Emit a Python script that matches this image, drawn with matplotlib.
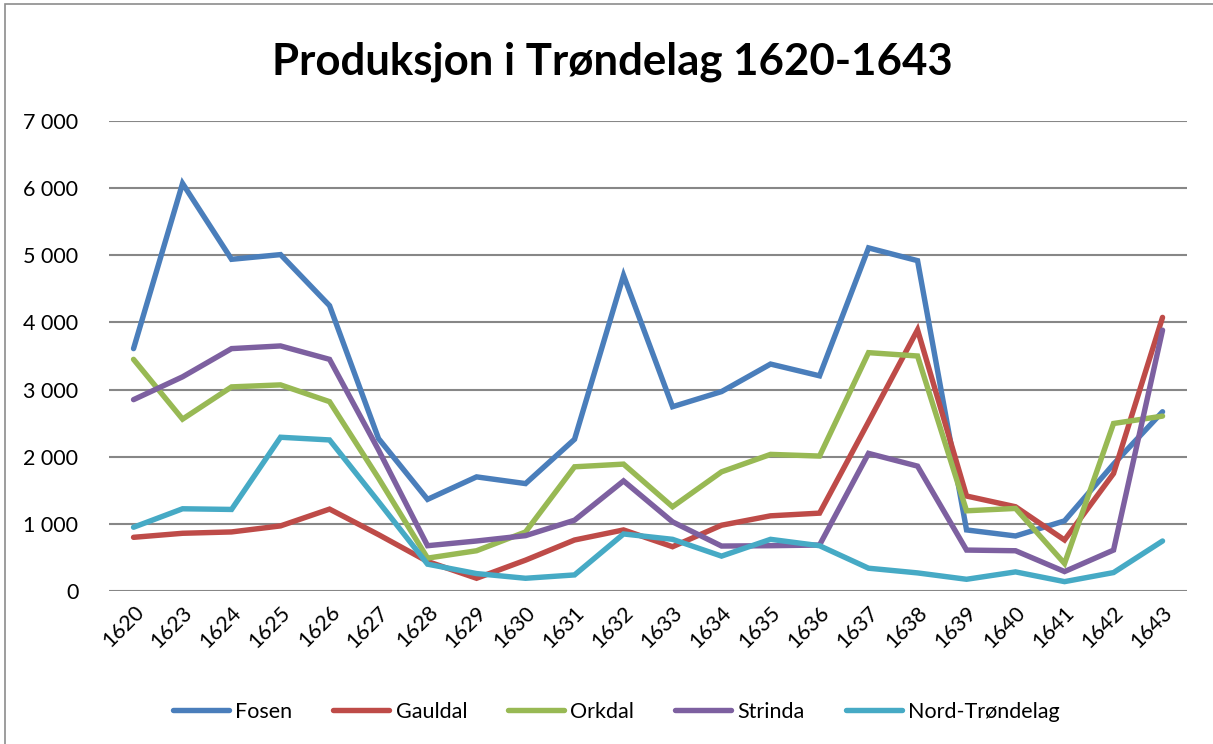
import matplotlib.pyplot as plt
from matplotlib.ticker import FuncFormatter, MultipleLocator
from matplotlib.patches import Rectangle

years = ["1620", "1623", "1624", "1625", "1626", "1627", "1628", "1629", "1630", "1631", "1632",
         "1633", "1634", "1635", "1636", "1637", "1638", "1639", "1640", "1641", "1642", "1643"]

fosen = [3610, 6070, 4940, 5010, 4250, 2270, 1365, 1700, 1600, 2260, 4700,
         2745, 2970, 3380, 3205, 5110, 4920, 910, 820, 1045, 1890, 2670]
gauldal = [800, 860, 880, 970, 1220, 840, 440, 190, 460, 760, 910,
           660, 980, 1120, 1160, 2520, 3890, 1415, 1255, 760, 1750, 4075]
orkdal = [3450, 2560, 3040, 3070, 2820, 1680, 490, 600, 880, 1850, 1890,
          1255, 1775, 2035, 2010, 3550, 3500, 1195, 1230, 410, 2495, 2605]
strinda = [2850, 3190, 3610, 3650, 3450, 2100, 675, 745, 825, 1055, 1640,
           1030, 670, 675, 685, 2050, 1860, 610, 600, 290, 610, 3885]
nord = [950, 1225, 1215, 2290, 2250, 1330, 400, 260, 190, 240, 850,
        770, 520, 770, 675, 340, 270, 175, 285, 140, 275, 745]

series = [
    ("Fosen", fosen, "#4a7ebb"),
    ("Gauldal", gauldal, "#be4b48"),
    ("Orkdal", orkdal, "#98b954"),
    ("Strinda", strinda, "#7d60a0"),
    ("Nord-Trøndelag", nord, "#46aac5"),
]

plt.rcParams['font.family'] = ['Lato', 'DejaVu Sans']

fig = plt.figure(figsize=(12.13, 7.44), dpi=100)
ax = fig.add_axes([0.0899, 0.2056, 0.8887, 0.6318])

# ramme rundt diagrammet
fig.patches.append(Rectangle((0.004, -0.01), 1.0, 1.005, transform=fig.transFigure,
                             fill=False, edgecolor="#8c8c8c", linewidth=1.2))

x = list(range(len(years)))
for name, vals, col in series:
    ax.plot(x, vals, color=col, linewidth=3.9, label=name, solid_capstyle="round",
            solid_joinstyle="miter")

ax.set_xlim(-0.5, len(years) - 0.5)
ax.set_ylim(0, 7000)
ax.yaxis.set_major_locator(MultipleLocator(1000))
ax.yaxis.set_major_formatter(FuncFormatter(lambda v, p: f"{int(v):,}".replace(",", " ")))
ax.set_xticks(x)
ax.set_xticklabels(years, rotation=45, ha="right", rotation_mode="anchor")
ax.tick_params(axis="both", length=0, labelsize=15.5)
ax.tick_params(axis="y", pad=22)
ax.tick_params(axis="x", pad=8)

ax.grid(axis="y", color="#878787", linewidth=1.5)
ax.set_axisbelow(True)
for s in ax.spines.values():
    s.set_visible(False)

fig.text(0.505, 0.917, "Produksjon i Trøndelag 1620-1643", ha="center", va="center",
         fontsize=31.5, fontweight="bold")

fig.legend(loc="center", bbox_to_anchor=(0.508, 0.043), ncol=5, frameon=False,
           fontsize=15.5, handlelength=2.6, columnspacing=1.9, handletextpad=0.3)

fig.savefig("out.png", dpi=100)
